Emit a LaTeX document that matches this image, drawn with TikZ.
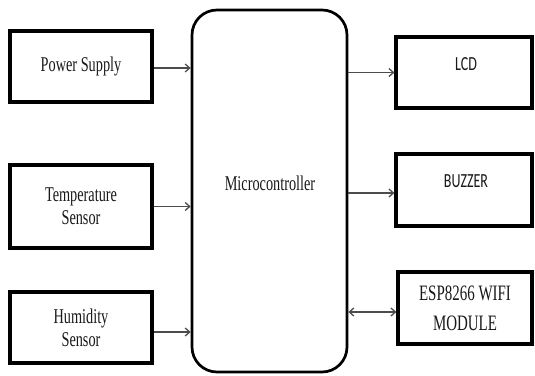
\documentclass[tikz,border=0pt]{standalone}
\usepackage{fontspec}
\newfontfamily\tnr[FakeStretch=0.68]{Liberation Serif}
\newfontfamily\clb[FakeStretch=0.7]{Carlito}
\usetikzlibrary{arrows.meta}
\begin{document}
\begin{tikzpicture}[x=1pt,y=-1pt,
  box/.style={draw=black,line width=3.2pt,minimum width=142pt,minimum height=71pt,inner sep=0pt,align=center,font=\tnr\fontsize{21}{23}\selectfont,text=black!90},
  mcu/.style={draw=black,line width=2.7pt,rounded corners=25pt,minimum width=155pt,minimum height=362pt,inner sep=0pt},
  lbl/.style={inner sep=0pt,align=center,text=black!90},
  arr/.style={draw=black!70,line width=1.3pt,-{Straight Barb[length=4.5pt,width=8pt]}},
  darr/.style={draw=black!70,line width=1.3pt,{Straight Barb[length=4.5pt,width=8pt]}-{Straight Barb[length=4.5pt,width=8pt]}}]
\useasboundingbox (0,0) rectangle (535,375);
\fill[white] (0,0) rectangle (535,375);
\node[box] (pwr) at (81,66.5) {Power Supply};
\node[box,minimum height=83pt] (tmp) at (81,206.5) {Temperature\\Sensor};
\node[box] (hum) at (81,327.5) {Humidity\\Sensor};
\node[mcu] (mc) at (269.5,191) {};
\node[lbl,font=\tnr\fontsize{21}{23}\selectfont] (mct) at (270,183) {Microcontroller};
\node[box,minimum width=136pt] (lcd) at (464,72.5) {};
\node[lbl,font=\clb\fontsize{20}{23}\selectfont] (lcdt) at (466,64) {LCD};
\node[box,minimum width=136pt,minimum height=72pt] (buz) at (464,190) {};
\node[lbl,font=\clb\fontsize{20}{23}\selectfont] (buzt) at (466,181.5) {BUZZER};
\node[box,minimum width=134pt,minimum height=72pt,font=\tnr\fontsize{22}{30}\selectfont] (esp) at (465,308) {ESP8266 WIFI\\MODULE};
\coordinate (p1) at ([yshift=-1.5pt]pwr.east);
\coordinate (h1) at ([yshift=-4.5pt]hum.east);
\coordinate (b1) at ([yshift=-3pt]buz.west);
\coordinate (e1) at ([yshift=-4pt]esp.west);
\draw[arr] (p1) -- (mc.west |- p1);
\draw[arr] (tmp.east) -- (mc.west |- tmp.east);
\draw[arr] (h1) -- (mc.west |- h1);
\draw[arr] (mc.east |- lcd.west) -- (lcd.west);
\draw[arr] (mc.east |- b1) -- (b1);
\draw[darr] (mc.east |- e1) -- (e1);
\end{tikzpicture}
\end{document}
